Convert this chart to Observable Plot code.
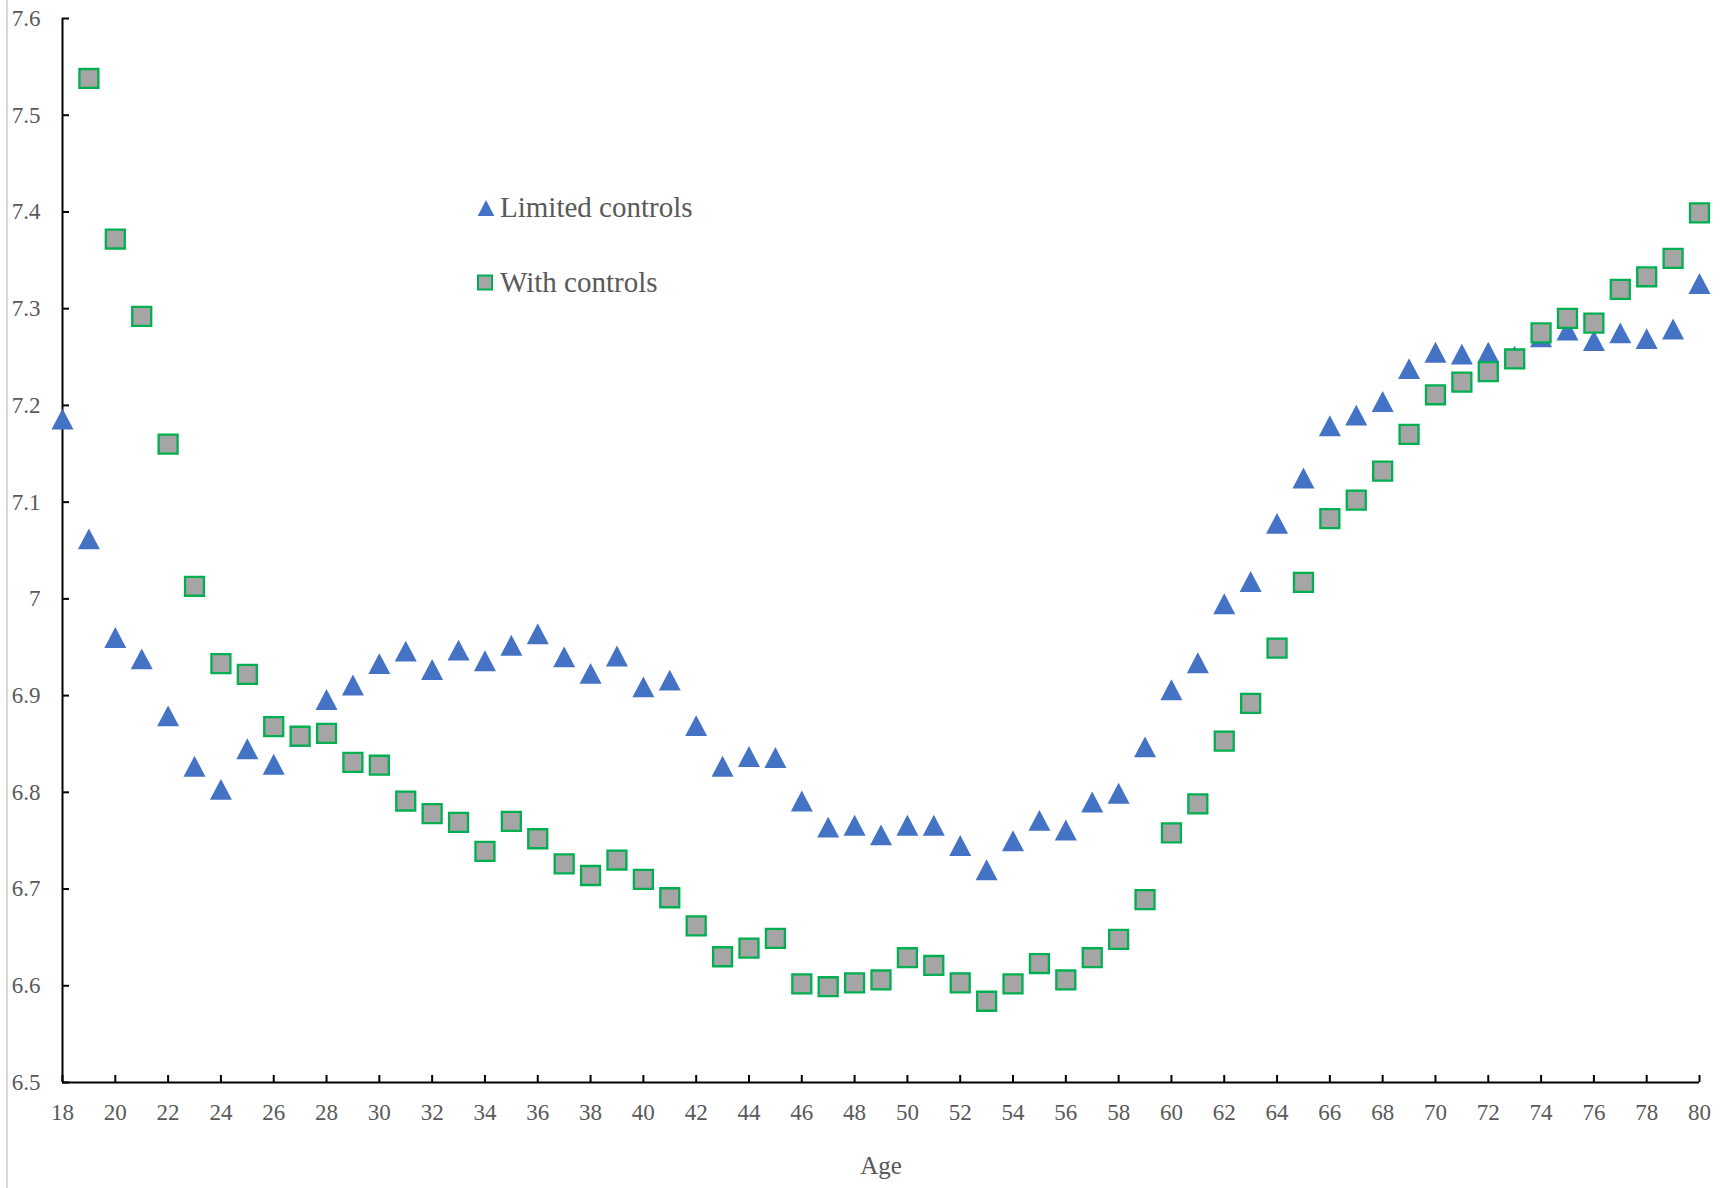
<!DOCTYPE html>
<html><head><meta charset="utf-8">
<script src="https://cdn.jsdelivr.net/npm/d3@7"></script>
<script src="https://cdn.jsdelivr.net/npm/@observablehq/plot@0.6"></script>
<style>
html,body{margin:0;padding:0;background:#fff;}
#wrap{position:relative;width:1732px;height:1188px;overflow:hidden;}
#border{position:absolute;left:6px;top:0;width:2px;height:1188px;background:#d9d9d9;}
#legend{position:absolute;left:0;top:0;pointer-events:none;}
</style></head><body>
<div id="wrap"><div id="border"></div></div>
<script>
const ages = [18,19,20,21,22,23,24,25,26,27,28,29,30,31,32,33,34,35,36,37,38,39,40,41,42,43,44,45,46,47,48,49,50,51,52,53,54,55,56,57,58,59,60,61,62,63,64,65,66,67,68,69,70,71,72,73,74,75,76,77,78,79,80];
const limitedControls = [7.186,7.062,6.960,6.938,6.879,6.827,6.803,6.845,6.829,6.858,6.896,6.911,6.933,6.946,6.927,6.947,6.936,6.952,6.964,6.940,6.923,6.941,6.909,6.916,6.869,6.827,6.837,6.836,6.791,6.764,6.766,6.756,6.766,6.766,6.745,6.720,6.750,6.771,6.761,6.790,6.799,6.847,6.906,6.934,6.995,7.018,7.078,7.125,7.179,7.190,7.204,7.238,7.255,7.253,7.255,7.251,7.271,7.278,7.267,7.275,7.269,7.279,7.326];
const withControls = [null,7.538,7.372,7.292,7.160,7.013,6.933,6.922,6.868,6.858,6.861,6.831,6.828,6.791,6.778,6.769,6.739,6.770,6.752,6.726,6.714,6.730,6.710,6.691,6.662,6.630,6.639,6.649,6.602,6.599,6.603,6.606,6.629,6.621,6.603,6.584,6.602,6.623,6.606,6.629,6.648,6.689,6.758,6.788,6.853,6.892,6.949,7.017,7.083,7.102,7.132,7.170,7.211,7.224,7.235,7.248,7.275,7.290,7.285,7.320,7.333,7.352,7.399];
const xTicks = [18,20,22,24,26,28,30,32,34,36,38,40,42,44,46,48,50,52,54,56,58,60,62,64,66,68,70,72,74,76,78,80];
const yTicks = [6.5,6.6,6.7,6.8,6.9,7.0,7.1,7.2,7.3,7.4,7.5,7.6];
const seriesNames = ["Limited controls", "With controls"];
const xTitle = "Age";

const limitedData = ages.map((a, i) => ({age: a, value: limitedControls[i]}));
const withData = ages.map((a, i) => ({age: a, value: withControls[i]})).filter(d => d.value != null);

const triangle = {
  draw(ctx, size) {
    const r = Math.sqrt(size / Math.PI);
    const h = 1.9 * r;
    ctx.moveTo(0, -h / 2);
    ctx.lineTo(r, h / 2);
    ctx.lineTo(-r, h / 2);
    ctx.closePath();
  }
};

const FONT = "'Liberation Serif', 'Times New Roman', serif";
const fmtY = d => (Math.abs(d - 7) < 1e-9 ? "7" : d3.format(".1f")(d));

const chart = Plot.plot({
  width: 1732, height: 1188,
  marginLeft: 62, marginRight: 33, marginTop: 18, marginBottom: 106,
  x: {domain: [18, 80], label: null},
  y: {domain: [6.5, 7.6], label: null},
  style: {fontFamily: FONT, fontSize: "23px", color: "#595959", background: "white"},
  marks: [
    Plot.axisY({ticks: yTicks, tickSize: -7, tickFormat: () => "", stroke: "black", strokeWidth: 2, label: null}),
    Plot.axisY({ticks: yTicks, tickSize: 0, tickPadding: 22, tickFormat: fmtY, label: null, fill: "#595959", fontSize: 23}),
    Plot.axisX({ticks: xTicks, tickSize: -7, tickFormat: () => "", stroke: "black", strokeWidth: 2, label: null}),
    Plot.axisX({ticks: xTicks, tickSize: 0, tickPadding: 21, tickFormat: d => String(d), label: null, fill: "#595959", fontSize: 23}),
    Plot.axisX({ticks: [], tickSize: 0, label: xTitle, labelArrow: "none", labelAnchor: "center", labelOffset: 91, fill: "#595959", fontSize: 25}),
    Plot.ruleX([18], {stroke: "black", strokeWidth: 2}),
    Plot.ruleY([6.5], {stroke: "black", strokeWidth: 2}),
    Plot.dot(limitedData, {x: "age", y: "value", symbol: triangle, r: 11, fill: "#4472c4", stroke: "none"}),
    Plot.dot(withData, {x: "age", y: "value", symbol: "square", r: 10.7, fill: "#a5a5a5", stroke: "#00b050", strokeWidth: 2.3})
  ]
});

const wrap = document.getElementById("wrap");
wrap.appendChild(chart);

// Legend overlay
const leg = d3.select(wrap).append("svg").attr("id", "legend").attr("width", 1732).attr("height", 1188);
leg.append("path").attr("transform", "translate(486,208)")
  .attr("d", d3.symbol(triangle, Math.PI * 8.3 * 8.3)()).attr("fill", "#4472c4");
leg.append("text").attr("x", 500).attr("y", 217).text(seriesNames[0])
  .attr("font-family", FONT).attr("font-size", 29).attr("fill", "#595959");
leg.append("rect").attr("x", 478).attr("y", 275.5).attr("width", 14).attr("height", 14)
  .attr("fill", "#a5a5a5").attr("stroke", "#00b050").attr("stroke-width", 2);
leg.append("text").attr("x", 500).attr("y", 292).text(seriesNames[1])
  .attr("font-family", FONT).attr("font-size", 29).attr("fill", "#595959");
</script>
</body></html>
